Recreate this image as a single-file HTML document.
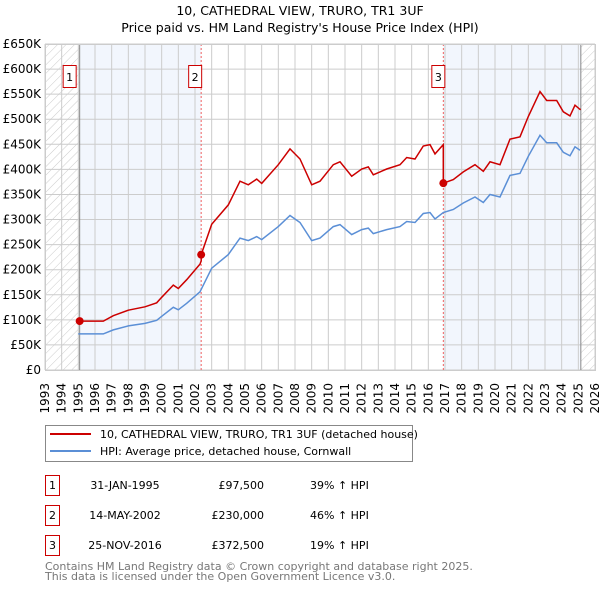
<!DOCTYPE html>
<html><head><meta charset="utf-8"><style>
body{margin:0;background:#fff;font-family:"DejaVu Sans","Liberation Sans",sans-serif}
svg text{font-family:"DejaVu Sans","Liberation Sans",sans-serif}
</style></head><body>
<svg id="c" width="600" height="590" xmlns="http://www.w3.org/2000/svg">
<defs><pattern id="hatch" width="6" height="6" patternUnits="userSpaceOnUse" patternTransform="rotate(45)"><line x1="0" y1="0" x2="0" y2="6" stroke="#ccc" stroke-width="1"/></pattern></defs>
<text x="300" y="15" text-anchor="middle" font-size="12.5">10, CATHEDRAL VIEW, TRURO, TR1 3UF</text>
<text x="300" y="32" text-anchor="middle" font-size="12.5">Price paid vs. HM Land Registry's House Price Index (HPI)</text>
<g id="plot"></g>
<g>
<rect x="45.5" y="425.5" width="367" height="36" fill="#fff" stroke="#888"/>
<line x1="50" y1="434" x2="91" y2="434" stroke="#cc0000" stroke-width="2"/>
<text x="100" y="438" font-size="11">10, CATHEDRAL VIEW, TRURO, TR1 3UF (detached house)</text>
<line x1="50" y1="451" x2="91" y2="451" stroke="#5b8fd6" stroke-width="2"/>
<text x="100" y="455" font-size="11">HPI: Average price, detached house, Cornwall</text>
</g>
<g id="table"></g>
<text x="45" y="570" font-size="11" fill="#777">Contains HM Land Registry data © Crown copyright and database right 2025.</text>
<text x="45" y="580" font-size="11" fill="#777">This data is licensed under the Open Government Licence v3.0.</text>
</svg>
<script>
const hpiYears=[1995.0,1996.5,1997.1,1998,1999,1999.7,2000,2000.7,2001,2001.5,2002.3,2003,2004,2004.7,2005.2,2005.7,2006,2007,2007.7,2008.3,2009.0,2009.5,2010.3,2010.7,2011.4,2012,2012.4,2012.7,2013.5,2014.3,2014.7,2015.2,2015.7,2016.1,2016.4,2016.9,2017.5,2018.1,2018.8,2019.3,2019.7,2020.3,2020.9,2021.5,2022,2022.7,2023.1,2023.7,2024.1,2024.5,2024.8,2025.1];
const hpiValues=[72,72,80,88,93,99,107,125,120,133,156,203,230,263,258,266,260,286,308,294,258,263,286,290,270,280,283,272,280,286,296,294,312,314,301,314,320,333,345,334,350,345,388,392,426,468,453,453,434,427,445,438];
const saleYears=[1995.08,2002.37,2016.9];
const salePrices=[97.5,230,372.5];
const saleLabels=["1","2","3"];
const saleDates=["31-JAN-1995","14-MAY-2002","25-NOV-2016"];
const salePriceText=["£97,500","£230,000","£372,500"];
const saleHpiText=["39% ↑ HPI","46% ↑ HPI","19% ↑ HPI"];
const yTicks=[0,50,100,150,200,250,300,350,400,450,500,550,600,650];
const yTickLabels=["£0","£50K","£100K","£150K","£200K","£250K","£300K","£350K","£400K","£450K","£500K","£550K","£600K","£650K"];
const xTicks=[];for(let y=1993;y<=2026;y++)xTicks.push(y);
const dataEnd=2025.15;

const X0=45,X1=595,Y0=370,Y1=44;
const xs=y=>X0+(y-1993)/(2026-1993)*(X1-X0);
const ys=v=>Y0-v/650*(Y0-Y1);
const NS="http://www.w3.org/2000/svg";
const plot=document.getElementById('plot');
function mk(tag,attrs,parent){const e=document.createElementNS(NS,tag);for(const k in attrs)e.setAttribute(k,attrs[k]);(parent||plot).appendChild(e);return e;}
function hpiAt(t){for(let i=0;i<hpiYears.length-1;i++){if(t<=hpiYears[i+1]){const f=(t-hpiYears[i])/(hpiYears[i+1]-hpiYears[i]);return hpiValues[i]+f*(hpiValues[i+1]-hpiValues[i]);}}return hpiValues[hpiValues.length-1];}

let e;
e=mk('rect',{x:X0,y:Y1,width:X1-X0,height:Y0-Y1,fill:'#fff'});

e=mk('rect',{x:xs(saleYears[0]),y:Y1,width:xs(saleYears[1])-xs(saleYears[0]),height:Y0-Y1,fill:'#f2f6fd'});

e=mk('rect',{x:xs(saleYears[2]),y:Y1,width:xs(dataEnd)-xs(saleYears[2]),height:Y0-Y1,fill:'#f2f6fd'});

e=mk('rect',{x:X0,y:Y1,width:xs(saleYears[0])-X0,height:Y0-Y1,fill:'url(#hatch)'});

e=mk('rect',{x:xs(dataEnd),y:Y1,width:X1-xs(dataEnd),height:Y0-Y1,fill:'url(#hatch)'});

yTicks.forEach((v,i)=>{
 e=mk('line',{x1:X0,x2:X1,y1:ys(v),y2:ys(v),stroke:'#ccc','stroke-width':1});
 
 e=mk('text',{x:X0-4,y:ys(v)+4,'text-anchor':'end','font-size':12});e.textContent=yTickLabels[i];
 
});
xTicks.forEach(y=>{
 e=mk('line',{x1:xs(y),x2:xs(y),y1:Y1,y2:Y0,stroke:'#ccc','stroke-width':1});
 
 e=mk('text',{x:0,y:0,'text-anchor':'end','font-size':12,transform:`translate(${xs(y)+4},${Y0+13}) rotate(-90)`});e.textContent=y;
 
});
e=mk('line',{x1:xs(saleYears[0]),x2:xs(saleYears[0]),y1:Y1,y2:Y0,stroke:'#888'});

e=mk('line',{x1:xs(dataEnd),x2:xs(dataEnd),y1:Y1,y2:Y0,stroke:'#888'});

[1,2].forEach(i=>{
 e=mk('line',{x1:xs(saleYears[i]),x2:xs(saleYears[i]),y1:Y1,y2:Y0,stroke:'#f06060','stroke-dasharray':'2,2'});
 
});
// HPI line
let d=hpiYears.map((t,i)=>(i?'L':'M')+xs(t).toFixed(1)+','+ys(hpiValues[i]).toFixed(1)).join('');
e=mk('path',{d:d,fill:'none',stroke:'#5b8fd6','stroke-width':1.5});

// Property line: HPI scaled by each sale's ratio
const ratios=saleYears.map((t,i)=>salePrices[i]/hpiAt(t));
let pts=[];
for(let s=0;s<3;s++){
 const a=saleYears[s],b=s<2?saleYears[s+1]:dataEnd;
 pts.push([a,salePrices[s]]);
 hpiYears.forEach((t,i)=>{if(t>a&&t<b)pts.push([t,hpiValues[i]*ratios[s]]);});
 pts.push([b,hpiAt(b)*ratios[s]]);
}
d=pts.map((p,i)=>(i?'L':'M')+xs(p[0]).toFixed(1)+','+ys(p[1]).toFixed(1)).join('');
e=mk('path',{d:d,fill:'none',stroke:'#cc0000','stroke-width':1.5});

saleYears.forEach((t,i)=>{
 e=mk('circle',{cx:xs(t),cy:ys(salePrices[i]),r:4,fill:'#cc0000'});
 
 const bx=xs(t)-(i==0?10:i==1?6:5);
 e=mk('rect',{x:bx-6.5,y:65.5,width:13,height:22,fill:'#fff',stroke:'#cc0000'});
 
 e=mk('text',{x:bx,y:81,'text-anchor':'middle','font-size':11});e.textContent=saleLabels[i];
 
});
e=mk('rect',{x:X0+.5,y:Y1+.5,width:X1-X0,height:Y0-Y1,fill:'none',stroke:'#ccc'});

// Table
const tb=document.getElementById('table');
saleYears.forEach((t,i)=>{
 const yy=475+i*30;
 e=mk('rect',{x:45.5,y:yy+.5,width:14,height:20,fill:'#fff',stroke:'#cc0000'},tb);
 
 e=mk('text',{x:52.5,y:yy+14,'text-anchor':'middle','font-size':11},tb);e.textContent=saleLabels[i];
 
 e=mk('text',{x:125,y:yy+14,'text-anchor':'middle','font-size':11},tb);e.textContent=saleDates[i];
 
 e=mk('text',{x:264,y:yy+14,'text-anchor':'end','font-size':11},tb);e.textContent=salePriceText[i];
 
 e=mk('text',{x:310,y:yy+14,'font-size':11},tb);e.textContent=saleHpiText[i];
 
});
</script>
</body></html>
